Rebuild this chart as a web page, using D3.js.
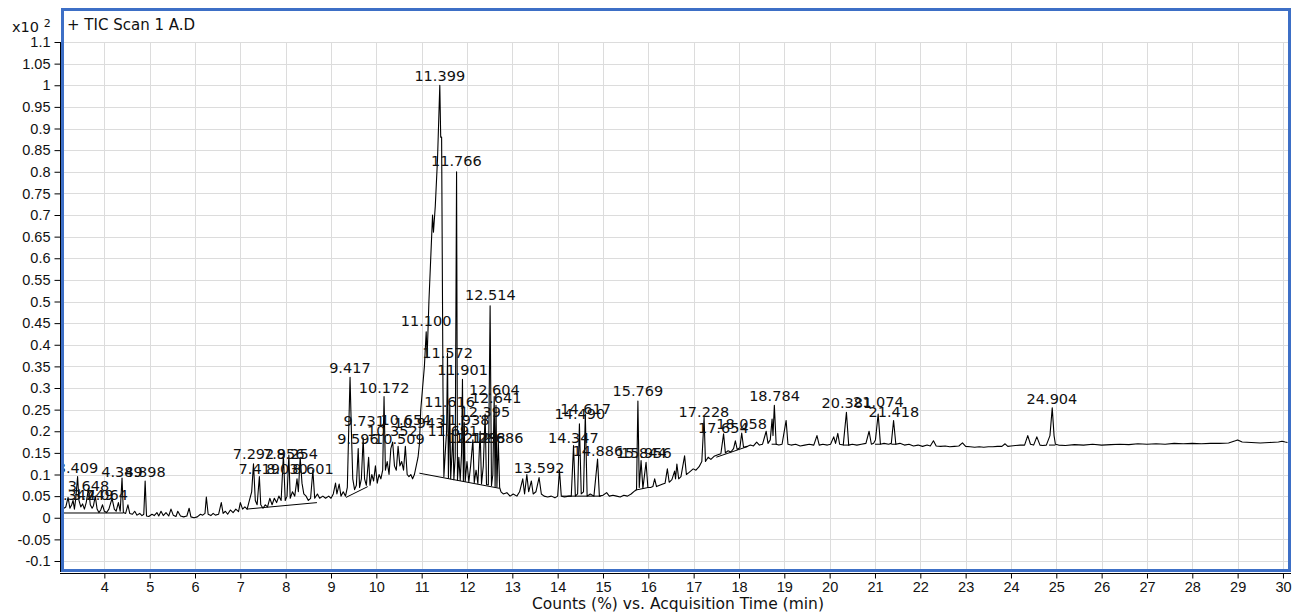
<!DOCTYPE html>
<html>
<head>
<meta charset="utf-8">
<script src="https://cdn.jsdelivr.net/npm/d3@7"></script>
<style>
  body { margin: 0; background: #fff; }
  svg { display: block; font-family: "DejaVu Sans", Verdana, sans-serif; }
</style>
</head>
<body>
<div id="chart"></div>
<script>
// Data ----------------------------------------------------------------------------------------------------------
const xTicks = [4, 5, 6, 7, 8, 9, 10, 11, 12, 13, 14, 15, 16, 17, 18, 19, 20, 21, 22, 23, 24, 25, 26, 27, 28, 29, 30];
const yTicks = [-0.1, -0.05, 0, 0.05, 0.1, 0.15, 0.2, 0.25, 0.3, 0.35, 0.4, 0.45, 0.5, 0.55, 0.6, 0.65, 0.7, 0.75,
  0.8, 0.85, 0.9, 0.95, 1, 1.05, 1.1];

// [time (min), counts (x10^2 %)]
const trace = [
  [3.11, 0.022], [3.15, 0.025], [3.2, 0.047], [3.24, 0.022], [3.28, 0.03], [3.31, 0.04], [3.34, 0.02], [3.37, 0.045],
  [3.41, 0.095], [3.44, 0.04], [3.48, 0.025], [3.52, 0.032], [3.56, 0.02], [3.6, 0.035], [3.65, 0.068], [3.69, 0.03],
  [3.73, 0.022], [3.76, 0.028], [3.8, 0.05], [3.84, 0.02], [3.88, 0.012], [3.92, 0.018], [3.96, 0.03], [4.0, 0.015],
  [4.05, 0.012], [4.1, 0.02], [4.17, 0.045], [4.22, 0.02], [4.26, 0.015], [4.31, 0.035], [4.35, 0.015], [4.39, 0.092],
  [4.42, 0.012], [4.47, 0.01], [4.52, 0.03], [4.56, 0.01], [4.62, 0.008], [4.67, 0.015], [4.72, 0.006], [4.78, 0.01],
  [4.83, 0.005], [4.87, 0.008], [4.9, 0.085], [4.93, 0.004], [4.98, 0.003], [5.05, 0.008], [5.1, 0.005], [5.16, 0.012],
  [5.2, 0.004], [5.25, 0.015], [5.3, 0.005], [5.36, 0.012], [5.42, 0.004], [5.47, 0.02], [5.52, 0.006], [5.58, 0.003],
  [5.62, 0.015], [5.68, 0.004], [5.75, 0.002], [5.82, 0.004], [5.87, 0.022], [5.91, 0.002], [5.98, 0.0], [6.05, 0.002],
  [6.12, 0.008], [6.17, 0.006], [6.22, 0.01], [6.25, 0.048], [6.29, 0.008], [6.35, 0.005], [6.4, 0.01], [6.45, 0.006],
  [6.52, 0.008], [6.58, 0.035], [6.62, 0.01], [6.67, 0.015], [6.72, 0.008], [6.78, 0.018], [6.84, 0.012], [6.9, 0.02],
  [6.96, 0.014], [7.0, 0.035], [7.05, 0.02], [7.1, 0.025], [7.15, 0.02], [7.2, 0.04], [7.25, 0.06], [7.29, 0.125],
  [7.33, 0.04], [7.37, 0.03], [7.42, 0.095], [7.45, 0.03], [7.5, 0.022], [7.55, 0.03], [7.6, 0.025], [7.65, 0.045],
  [7.7, 0.03], [7.75, 0.045], [7.8, 0.035], [7.85, 0.05], [7.9, 0.04], [7.95, 0.145], [7.99, 0.04], [8.03, 0.05],
  [8.07, 0.145], [8.1, 0.045], [8.15, 0.06], [8.2, 0.05], [8.25, 0.09], [8.28, 0.06], [8.32, 0.14], [8.36, 0.08],
  [8.4, 0.055], [8.45, 0.05], [8.5, 0.04], [8.55, 0.045], [8.6, 0.11], [8.64, 0.045], [8.7, 0.055], [8.75, 0.045],
  [8.82, 0.05], [8.88, 0.045], [8.95, 0.05], [9.0, 0.045], [9.05, 0.055], [9.1, 0.08], [9.13, 0.055], [9.18, 0.078],
  [9.22, 0.05], [9.27, 0.06], [9.32, 0.05], [9.36, 0.07], [9.39, 0.2], [9.42, 0.325], [9.45, 0.2], [9.48, 0.09],
  [9.52, 0.065], [9.56, 0.075], [9.6, 0.16], [9.63, 0.07], [9.67, 0.09], [9.71, 0.185], [9.74, 0.09], [9.78, 0.075],
  [9.83, 0.14], [9.86, 0.075], [9.9, 0.1], [9.94, 0.085], [9.98, 0.12], [10.02, 0.08], [10.06, 0.1], [10.1, 0.09],
  [10.14, 0.11], [10.17, 0.28], [10.2, 0.11], [10.24, 0.13], [10.28, 0.1], [10.32, 0.16], [10.36, 0.175], [10.4, 0.12],
  [10.44, 0.11], [10.48, 0.165], [10.52, 0.12], [10.56, 0.13], [10.6, 0.11], [10.64, 0.165], [10.68, 0.1],
  [10.72, 0.095], [10.76, 0.1], [10.8, 0.09], [10.84, 0.1], [10.88, 0.12], [10.92, 0.14], [10.95, 0.17],
  [10.98, 0.25], [11.02, 0.3], [11.06, 0.35], [11.1, 0.43], [11.12, 0.37], [11.16, 0.5], [11.2, 0.6], [11.24, 0.7],
  [11.26, 0.66], [11.3, 0.72], [11.35, 0.83], [11.4, 1.0], [11.42, 0.88], [11.44, 0.88], [11.47, 0.3], [11.49, 0.095],
  [11.52, 0.15], [11.55, 0.2], [11.57, 0.38], [11.59, 0.092], [11.62, 0.26], [11.64, 0.09], [11.67, 0.15],
  [11.69, 0.2], [11.71, 0.088], [11.74, 0.14], [11.77, 0.8], [11.79, 0.087], [11.82, 0.14], [11.85, 0.086],
  [11.88, 0.15], [11.9, 0.32], [11.92, 0.085], [11.94, 0.22], [11.96, 0.084], [12.0, 0.13], [12.04, 0.083],
  [12.08, 0.12], [12.13, 0.18], [12.16, 0.081], [12.2, 0.11], [12.24, 0.079], [12.29, 0.2], [12.32, 0.078],
  [12.36, 0.12], [12.4, 0.24], [12.43, 0.077], [12.47, 0.076], [12.51, 0.49], [12.54, 0.074], [12.57, 0.1],
  [12.6, 0.28], [12.62, 0.072], [12.64, 0.26], [12.66, 0.071], [12.69, 0.18], [12.72, 0.07], [12.75, 0.06],
  [12.8, 0.055], [12.88, 0.058], [12.95, 0.05], [13.02, 0.055], [13.1, 0.05], [13.16, 0.06], [13.23, 0.09],
  [13.27, 0.055], [13.32, 0.1], [13.36, 0.06], [13.42, 0.085], [13.46, 0.055], [13.52, 0.06], [13.59, 0.093],
  [13.64, 0.055], [13.7, 0.05], [13.78, 0.048], [13.86, 0.05], [13.94, 0.046], [14.0, 0.05], [14.04, 0.11],
  [14.08, 0.05], [14.15, 0.048], [14.25, 0.05], [14.3, 0.05], [14.35, 0.167], [14.39, 0.05], [14.44, 0.055],
  [14.48, 0.217], [14.52, 0.055], [14.57, 0.06], [14.61, 0.24], [14.65, 0.05], [14.72, 0.055], [14.8, 0.05],
  [14.88, 0.136], [14.92, 0.05], [15.0, 0.052], [15.08, 0.058], [15.14, 0.05], [15.22, 0.052], [15.3, 0.05],
  [15.38, 0.048], [15.46, 0.052], [15.54, 0.05], [15.62, 0.055], [15.7, 0.062], [15.74, 0.065], [15.77, 0.27],
  [15.8, 0.07], [15.84, 0.132], [15.88, 0.068], [15.95, 0.128], [15.99, 0.07], [16.05, 0.07], [16.1, 0.072],
  [16.14, 0.09], [16.18, 0.072], [16.25, 0.075], [16.32, 0.078], [16.37, 0.08], [16.42, 0.113], [16.46, 0.082],
  [16.52, 0.088], [16.58, 0.108], [16.6, 0.09], [16.63, 0.124], [16.67, 0.09], [16.72, 0.095], [16.8, 0.143],
  [16.84, 0.1], [16.9, 0.105], [16.99, 0.113], [17.05, 0.11], [17.12, 0.118], [17.18, 0.13], [17.23, 0.232],
  [17.26, 0.13], [17.32, 0.14], [17.38, 0.135], [17.45, 0.142], [17.52, 0.145], [17.6, 0.148], [17.66, 0.194],
  [17.7, 0.15], [17.76, 0.155], [17.82, 0.152], [17.88, 0.16], [17.92, 0.178], [17.96, 0.158], [18.02, 0.162],
  [18.06, 0.196], [18.1, 0.163], [18.18, 0.165], [18.25, 0.168], [18.32, 0.166], [18.39, 0.175], [18.45, 0.168],
  [18.52, 0.17], [18.6, 0.2], [18.64, 0.172], [18.69, 0.18], [18.73, 0.228], [18.75, 0.19], [18.78, 0.26],
  [18.82, 0.17], [18.88, 0.168], [18.95, 0.17], [19.04, 0.225], [19.08, 0.17], [19.15, 0.168], [19.25, 0.17],
  [19.35, 0.166], [19.45, 0.168], [19.55, 0.17], [19.65, 0.168], [19.72, 0.19], [19.77, 0.168], [19.85, 0.17],
  [19.95, 0.168], [20.02, 0.17], [20.09, 0.187], [20.13, 0.172], [20.18, 0.195], [20.22, 0.17], [20.3, 0.168],
  [20.37, 0.244], [20.42, 0.168], [20.5, 0.17], [20.6, 0.168], [20.7, 0.17], [20.8, 0.172], [20.87, 0.2],
  [20.92, 0.17], [20.97, 0.172], [21.01, 0.18], [21.07, 0.24], [21.12, 0.17], [21.2, 0.172], [21.3, 0.17],
  [21.36, 0.172], [21.41, 0.225], [21.46, 0.17], [21.55, 0.172], [21.65, 0.168], [21.75, 0.17], [21.85, 0.166],
  [21.95, 0.168], [22.05, 0.165], [22.15, 0.168], [22.22, 0.166], [22.29, 0.178], [22.35, 0.166], [22.45, 0.165],
  [22.55, 0.166], [22.65, 0.164], [22.75, 0.165], [22.85, 0.166], [22.93, 0.173], [23.0, 0.165], [23.1, 0.164],
  [23.2, 0.163], [23.3, 0.164], [23.4, 0.163], [23.5, 0.164], [23.6, 0.164], [23.7, 0.165], [23.8, 0.165],
  [23.87, 0.171], [23.93, 0.165], [24.0, 0.166], [24.1, 0.167], [24.2, 0.168], [24.3, 0.168], [24.37, 0.19],
  [24.43, 0.17], [24.5, 0.168], [24.57, 0.187], [24.64, 0.168], [24.7, 0.167], [24.78, 0.168], [24.86, 0.19],
  [24.91, 0.254], [24.95, 0.19], [24.98, 0.17], [25.05, 0.168], [25.2, 0.167], [25.4, 0.169], [25.6, 0.168],
  [25.8, 0.17], [26.0, 0.168], [26.2, 0.169], [26.4, 0.17], [26.6, 0.169], [26.8, 0.171], [27.0, 0.17], [27.2, 0.171],
  [27.4, 0.17], [27.6, 0.172], [27.8, 0.171], [28.0, 0.172], [28.2, 0.171], [28.4, 0.172], [28.6, 0.172],
  [28.8, 0.173], [28.95, 0.178], [29.0, 0.18], [29.1, 0.175], [29.3, 0.174], [29.5, 0.173], [29.7, 0.174],
  [29.9, 0.175], [29.98, 0.177], [30.05, 0.175], [30.1, 0.174]
];

// integration baselines: [t1, v1, t2, v2]
const baselines = [
  [3.11, 0.011, 4.42, 0.011], [7.14, 0.02, 8.69, 0.035], [9.33, 0.047, 9.81, 0.072], [10.95, 0.103, 12.72, 0.068],
  [14.1, 0.05, 14.95, 0.05], [15.72, 0.064, 16.0, 0.07], [17.5, 0.14, 18.2, 0.165], [18.72, 0.17, 18.84, 0.17],
  [20.3, 0.168, 20.43, 0.168], [21.0, 0.17, 21.12, 0.17], [21.36, 0.17, 21.47, 0.17], [24.84, 0.168, 24.98, 0.168]
];

// peak labels: [text, time, label height]
const peakLabels = [
  ["3.409", 3.409, 0.116], ["3.648", 3.648, 0.074], ["3.342", 3.342, 0.053], ["3.749", 3.749, 0.053],
  ["4.064", 4.064, 0.053], ["4.389", 4.389, 0.106], ["4.898", 4.898, 0.106],
  ["7.292", 7.292, 0.149], ["7.956", 7.956, 0.149], ["8.254", 8.254, 0.149],
  ["7.419", 7.419, 0.113], ["8.030", 8.03, 0.113], ["8.601", 8.601, 0.113],
  ["9.417", 9.417, 0.347], ["10.172", 10.172, 0.301], ["9.731", 9.731, 0.225], ["10.654", 10.654, 0.227],
  ["10.943", 10.943, 0.22], ["10.352", 10.352, 0.2], ["9.596", 9.596, 0.183], ["10.509", 10.509, 0.183],
  ["11.399", 11.399, 1.023], ["11.766", 11.766, 0.825], ["12.514", 12.514, 0.516], ["11.100", 11.1, 0.456],
  ["11.572", 11.572, 0.382], ["11.901", 11.901, 0.343], ["12.604", 12.604, 0.296], ["12.641", 12.641, 0.278],
  ["11.616", 11.616, 0.267], ["12.395", 12.395, 0.244], ["11.938", 11.938, 0.227], ["11.691", 11.691, 0.2],
  ["12.129", 12.129, 0.186], ["12.288", 12.288, 0.186], ["12.686", 12.686, 0.186], ["13.592", 13.592, 0.116],
  ["14.617", 14.617, 0.252], ["14.490", 14.49, 0.24], ["14.347", 14.347, 0.185], ["14.886", 14.886, 0.155],
  ["15.844", 15.844, 0.15], ["15.956", 15.956, 0.15], ["15.769", 15.769, 0.294],
  ["17.228", 17.228, 0.244], ["17.654", 17.654, 0.209], ["18.058", 18.058, 0.218], ["18.784", 18.784, 0.281],
  ["20.381", 20.381, 0.265], ["21.074", 21.074, 0.267], ["21.418", 21.418, 0.244], ["24.904", 24.904, 0.275]
];

// Canvas ---------------------------------------------------------------------------------------------------------
const canvasWidth = 1296;
const canvasHeight = 613;
const plotLeft = 64;
const plotRight = 1288;
const plotTop = 11;
const plotBottom = 569;

const svg = d3.select("#chart")
  .append("svg")
  .attr("width", canvasWidth)
  .attr("height", canvasHeight);

const xScale = d3.scaleLinear().domain([3.11, 30.1]).range([plotLeft, 1287.5]);
const yScale = d3.scaleLinear().domain([-0.1, 1.1]).range([561, 42]);

svg.append("defs").append("clipPath")
  .attr("id", "plot-clip")
  .append("rect")
  .attr("x", plotLeft)
  .attr("y", plotTop)
  .attr("width", plotRight - plotLeft)
  .attr("height", plotBottom - plotTop);

// Grid -----------------------------------------------------------------------------------------------------------
const grid = svg.append("g").attr("stroke", "#dcdcdc").attr("stroke-width", 1);
grid.selectAll(".vgrid")
  .data(xTicks)
  .enter()
  .append("line")
  .attr("x1", d => Math.round(xScale(d)) + 0.5)
  .attr("x2", d => Math.round(xScale(d)) + 0.5)
  .attr("y1", yScale(1.1))
  .attr("y2", plotBottom);
grid.selectAll(".hgrid")
  .data(yTicks)
  .enter()
  .append("line")
  .attr("x1", plotLeft)
  .attr("x2", plotRight)
  .attr("y1", d => Math.round(yScale(d)) + 0.5)
  .attr("y2", d => Math.round(yScale(d)) + 0.5);

// Trace ----------------------------------------------------------------------------------------------------------
const plot = svg.append("g").attr("clip-path", "url(#plot-clip)");

plot.selectAll(".baseline")
  .data(baselines)
  .enter()
  .append("line")
  .attr("x1", d => xScale(d[0]))
  .attr("y1", d => yScale(d[1]))
  .attr("x2", d => xScale(d[2]))
  .attr("y2", d => yScale(d[3]))
  .attr("stroke", "#000")
  .attr("stroke-width", 1);

plot.append("path")
  .datum(trace)
  .attr("fill", "none")
  .attr("stroke", "#000")
  .attr("stroke-width", 1.1)
  .attr("stroke-linejoin", "round")
  .attr("d", d3.line().x(d => xScale(d[0])).y(d => yScale(d[1])));

plot.selectAll(".peak-label")
  .data(peakLabels)
  .enter()
  .append("text")
  .attr("x", d => xScale(d[1]))
  .attr("y", d => yScale(d[2]))
  .attr("dy", "0.36em")
  .attr("text-anchor", "middle")
  .style("font-size", "14.5px")
  .style("fill", "#111")
  .text(d => d[0]);

// Frame ----------------------------------------------------------------------------------------------------------
svg.append("rect")
  .attr("x", 62.5)
  .attr("y", 9.5)
  .attr("width", 1227)
  .attr("height", 561)
  .attr("fill", "none")
  .attr("stroke", "#3d6fc6")
  .attr("stroke-width", 3);

svg.append("text")
  .attr("x", 67)
  .attr("y", 30)
  .style("font-size", "15px")
  .style("fill", "#111")
  .text("+ TIC Scan 1 A.D");

// Axes -----------------------------------------------------------------------------------------------------------
const fmt = d => String(+d.toFixed(2));

const yAxis = svg.append("g")
  .attr("transform", "translate(60.5, 0)")
  .call(d3.axisLeft(yScale).tickValues(yTicks).tickFormat(fmt).tickSize(6).tickSizeOuter(0).tickPadding(4));
yAxis.select(".domain").remove();
yAxis.selectAll("text").style("font-size", "14.5px").style("fill", "#111").style("font-family", null);
yAxis.append("line")
  .attr("x1", 0).attr("x2", 0)
  .attr("y1", yScale(1.1)).attr("y2", 572)
  .attr("stroke", "#000");

const xAxis = svg.append("g")
  .attr("transform", "translate(0, 573.5)")
  .call(d3.axisBottom(xScale).tickValues(xTicks).tickFormat(d3.format("d")).tickSize(5).tickSizeOuter(0).tickPadding(3));
xAxis.select(".domain").attr("d", "M60,0H1291");
xAxis.selectAll("text").style("font-size", "14.5px").style("fill", "#111").style("font-family", null);

svg.append("text")
  .attr("x", 678)
  .attr("y", 609)
  .attr("text-anchor", "middle")
  .style("font-size", "15.5px")
  .style("fill", "#111")
  .text("Counts (%) vs. Acquisition Time (min)");

const mult = svg.append("text")
  .attr("x", 12)
  .attr("y", 32)
  .style("font-size", "14.5px")
  .style("fill", "#111");
mult.append("tspan").text("x10 ");
mult.append("tspan").attr("dy", -5).style("font-size", "11px").text("2");
</script>
</body>
</html>
